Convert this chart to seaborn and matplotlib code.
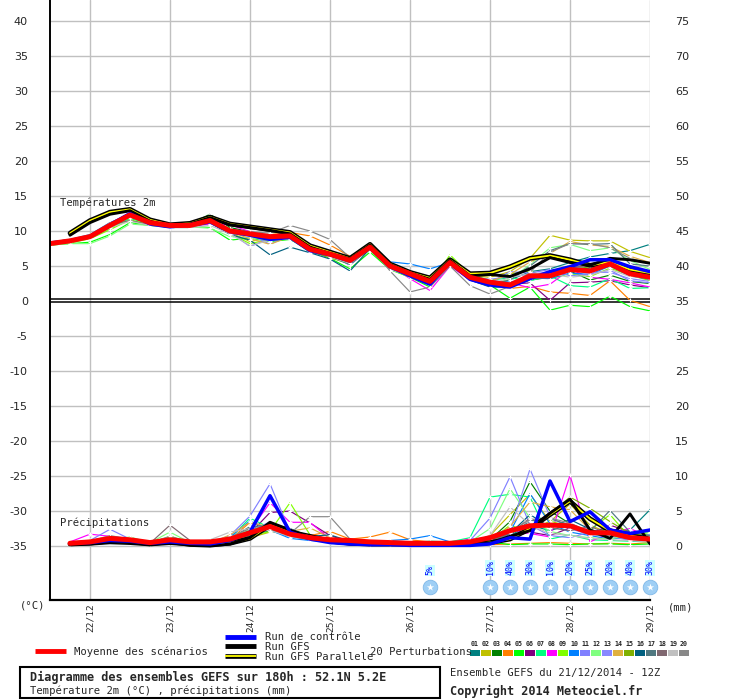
import matplotlib
matplotlib.use("Agg")
import matplotlib.pyplot as plt
import matplotlib.patheffects as pe
from matplotlib.patches import Rectangle
from matplotlib.lines import Line2D
import numpy as np
import pandas as pd
import seaborn as sns

# ---- data ----
hours_t = list(range(0, 181, 6))     # temperature every 6h, 21/12 12Z -> 29/12 00Z
hours_p = list(range(6, 181, 6))     # 6h precipitation totals

temp_mean = [8.2, 8.6, 9.2, 10.8, 12.3, 11.2, 10.8, 10.8, 11.5, 10.0, 9.6, 9.2, 9.3, 7.4, 6.7, 5.8, 7.7, 5.0, 3.9, 2.8,
             5.5, 3.4, 2.7, 2.3, 3.6, 3.6, 4.5, 4.3, 5.3, 3.9, 3.4]
temp_control = [8.3, 8.6, 9.2, 10.9, 12.5, 11.0, 10.6, 10.9, 11.3, 9.9, 9.4, 8.8, 9.1, 7.2, 6.6, 5.7, 7.6, 4.9, 3.6, 2.4,
                5.5, 3.1, 2.3, 2.0, 3.2, 4.2, 4.9, 5.9, 5.9, 4.9, 4.2]
temp_gfs = [np.nan, 9.4, 11.2, 12.4, 12.9, 11.4, 10.7, 11.0, 11.9, 10.9, 10.5, 10.1, 9.6, 7.7, 6.8, 6.0, 8.0, 5.2, 4.0, 3.1,
            5.8, 3.6, 3.8, 3.5, 4.6, 6.2, 5.5, 5.1, 6.1, 5.9, 5.4]
temp_gfs_par = [np.nan, 9.7, 11.5, 12.7, 13.1, 11.6, 10.9, 11.1, 12.0, 11.0, 10.6, 10.2, 9.8, 7.9, 7.0, 6.1, 8.1, 5.3, 4.1, 3.3,
                5.9, 3.9, 4.0, 4.9, 6.1, 6.5, 5.9, 5.1, 5.6, 4.5, 4.0]

t01 = [8.3, 8.7, 9.3, 11.0, 12.4, 11.0, 10.6, 10.9, 11.7, 10.2, 9.3, 9.0, 9.6, 7.8, 6.9, 5.9, 7.9, 5.1, 3.7, 2.9, 5.6, 3.3, 2.4, 3.0, 4.2, 4.6, 5.5, 6.3, 6.8, 7.2, 8.1]
t02 = [8.1, 8.5, 9.1, 10.6, 12.1, 11.3, 10.9, 10.7, 11.3, 9.8, 8.5, 9.1, 9.4, 7.2, 6.5, 5.6, 7.6, 4.9, 3.8, 3.2, 5.7, 3.6, 3.4, 4.2, 6.1, 9.4, 8.7, 8.6, 8.6, 7.1, 6.2]
t03 = [8.2, 8.6, 9.3, 10.9, 12.6, 11.1, 10.7, 11.0, 12.4, 10.5, 9.9, 9.1, 9.0, 7.0, 6.4, 5.4, 7.5, 5.2, 4.1, 2.6, 5.3, 3.2, 2.6, 2.0, 3.0, 3.4, 4.3, 3.0, 3.7, 2.8, 2.5]
t04 = [8.0, 8.4, 9.0, 10.5, 11.9, 11.2, 10.9, 10.8, 11.2, 10.1, 9.7, 9.5, 9.8, 9.3, 8.0, 6.4, 7.9, 5.0, 4.0, 2.9, 5.2, 3.1, 2.5, 1.8, 2.1, 1.3, 1.1, 0.8, 2.9, 0.1, -0.8]
t05 = [8.0, 8.2, 8.4, 9.5, 11.2, 10.8, 10.6, 10.7, 10.5, 8.7, 9.0, 8.5, 8.8, 7.3, 6.1, 4.6, 7.0, 4.5, 3.4, 2.0, 6.3, 3.6, 2.3, 0.4, 2.0, -1.3, -0.6, -0.8, 0.7, -0.8, -1.4]
t06 = [8.3, 8.7, 9.4, 11.1, 12.5, 11.2, 10.6, 10.9, 11.6, 10.3, 9.8, 9.3, 9.5, 7.6, 6.3, 5.5, 7.8, 5.3, 3.8, 2.6, 5.4, 3.5, 2.2, 2.4, 2.6, 0.1, 2.6, 2.7, 2.9, 2.3, 1.9]
t07 = [8.1, 8.5, 9.0, 10.4, 11.8, 11.0, 10.9, 10.9, 11.4, 9.7, 9.4, 9.0, 8.9, 7.1, 6.6, 5.7, 7.4, 4.7, 3.5, 2.7, 5.6, 3.7, 3.0, 3.3, 2.9, 3.6, 2.2, 2.0, 3.2, 1.8, 1.9]
t08 = [8.2, 8.6, 9.2, 10.7, 12.2, 11.3, 10.8, 10.6, 11.0, 10.9, 9.9, 9.4, 9.7, 7.5, 6.9, 5.2, 7.6, 5.1, 3.2, 1.5, 5.0, 3.0, 2.1, 2.6, 1.9, 2.4, 4.5, 3.4, 3.1, 2.6, 2.0]
t09 = [8.0, 8.3, 8.9, 10.2, 11.6, 10.9, 10.7, 10.8, 11.6, 9.6, 8.2, 8.8, 9.0, 7.2, 6.2, 5.5, 7.3, 4.6, 3.4, 2.4, 6.6, 3.8, 2.8, 3.9, 4.3, 3.2, 3.9, 3.5, 4.7, 3.7, 2.9]
t10 = [8.3, 8.8, 9.5, 11.2, 12.4, 11.1, 10.6, 11.1, 11.5, 10.2, 9.4, 9.0, 9.3, 7.6, 6.8, 5.8, 7.9, 5.6, 5.3, 4.6, 5.5, 3.7, 2.9, 2.7, 3.3, 3.2, 4.0, 3.8, 5.0, 3.6, 3.1]
t11 = [8.2, 8.5, 9.1, 10.7, 12.3, 11.1, 11.0, 10.8, 11.4, 9.8, 7.8, 8.9, 9.1, 7.3, 6.6, 5.1, 7.6, 4.9, 4.1, 2.9, 5.7, 3.2, 2.6, 4.2, 4.0, 4.5, 3.6, 3.9, 4.4, 2.9, 2.6]
t12 = [8.0, 8.2, 8.2, 9.3, 11.0, 10.8, 10.5, 10.6, 10.4, 9.2, 9.0, 8.7, 8.9, 7.0, 6.5, 5.9, 7.2, 4.8, 3.6, 3.0, 5.8, 3.5, 2.5, 3.1, 5.2, 7.6, 8.1, 7.2, 7.6, 5.8, 4.5]
t13 = [8.2, 8.6, 9.2, 10.9, 12.1, 11.2, 10.9, 10.7, 11.3, 9.9, 9.5, 8.1, 9.4, 7.5, 6.8, 6.0, 7.7, 5.0, 4.0, 2.8, 5.4, 3.4, 3.1, 3.5, 3.8, 4.2, 4.7, 4.1, 4.1, 3.2, 2.8]
t14 = [8.1, 8.5, 9.2, 10.6, 12.0, 11.4, 10.9, 10.9, 11.2, 9.9, 8.9, 8.1, 9.2, 7.3, 6.6, 5.7, 7.6, 4.7, 3.7, 2.9, 5.5, 3.6, 2.8, 3.8, 5.6, 6.8, 8.5, 8.0, 7.8, 6.4, 5.5]
t15 = [8.2, 8.6, 9.2, 10.8, 12.2, 11.3, 10.8, 10.9, 11.7, 10.3, 9.3, 8.6, 9.0, 7.1, 6.2, 5.3, 7.4, 4.9, 3.9, 2.7, 5.9, 3.3, 2.5, 2.2, 3.4, 3.9, 5.1, 4.7, 6.0, 4.5, 4.0]
t16 = [8.4, 8.8, 9.3, 10.9, 12.2, 11.0, 10.5, 10.5, 11.2, 9.5, 8.7, 6.6, 7.7, 6.9, 6.0, 4.3, 7.5, 4.6, 3.6, 2.4, 5.2, 3.0, 2.0, 2.0, 3.5, 3.8, 4.8, 4.6, 5.6, 4.3, 3.9]
t17 = [8.2, 8.6, 9.2, 10.8, 12.4, 11.2, 10.7, 10.8, 11.6, 10.1, 9.6, 9.2, 9.4, 7.0, 6.4, 5.2, 7.7, 4.8, 3.9, 3.1, 5.8, 3.4, 2.4, 3.0, 5.0, 7.2, 8.2, 8.1, 8.2, 5.3, 5.0]
t18 = [8.3, 8.7, 9.3, 10.9, 11.5, 10.9, 10.5, 10.7, 11.3, 10.1, 9.3, 9.1, 9.2, 7.4, 6.8, 5.8, 7.6, 4.9, 3.9, 2.5, 5.4, 3.2, 2.7, 2.6, 3.2, 4.3, 4.9, 5.0, 5.9, 4.7, 4.2]
t19 = [8.1, 8.5, 9.0, 10.5, 11.4, 10.8, 10.6, 10.5, 10.8, 9.6, 7.9, 8.7, 8.9, 7.4, 6.3, 5.4, 7.5, 4.5, 3.6, 2.9, 5.7, 3.6, 2.3, 3.4, 3.9, 3.9, 3.4, 3.7, 4.5, 3.5, 3.3]
t20 = [8.3, 8.7, 9.4, 11.2, 12.0, 11.0, 10.6, 10.7, 11.2, 10.2, 9.9, 9.7, 10.8, 10.0, 8.8, 6.2, 7.9, 4.3, 1.3, 2.0, 5.0, 2.2, 1.0, 2.1, 4.1, 7.0, 8.2, 8.2, 7.6, 6.1, 5.4]

precip_mean = [0.4, 0.6, 1.1, 0.9, 0.5, 0.9, 0.6, 0.6, 1.0, 1.9, 2.8, 1.7, 1.2, 0.9, 0.8, 0.6, 0.5, 0.4, 0.4, 0.4,
               0.6, 1.2, 2.2, 2.9, 3.0, 2.9, 1.9, 1.9, 1.2, 1.0]
precip_control = [0.4, 0.5, 0.8, 0.7, 0.4, 0.6, 0.4, 0.3, 0.8, 2.0, 7.2, 2.0, 1.0, 0.5, 0.3, 0.2, 0.2, 0.1, 0.1, 0.1,
                  0.1, 0.3, 1.2, 1.0, 9.3, 3.5, 4.9, 2.3, 1.8, 2.3]
precip_gfs = [0.2, 0.3, 0.6, 0.5, 0.2, 0.5, 0.1, 0.0, 0.3, 1.2, 3.4, 2.3, 1.2, 0.6, 0.3, 0.2, 0.2, 0.2, 0.3, 0.2,
              0.3, 0.4, 1.4, 2.2, 4.7, 6.7, 2.3, 1.1, 4.6, 0.3]
precip_gfs_par = [0.3, 0.4, 0.6, 0.5, 0.3, 0.5, 0.3, 0.2, 0.4, 1.1, 3.0, 2.0, 1.4, 0.7, 0.4, 0.3, 0.3, 0.3, 0.3, 0.3,
                  0.3, 0.5, 1.0, 2.5, 4.5, 6.4, 3.9, 2.2, 1.5, 1.0]

p01 = [0.4, 0.5, 0.8, 0.6, 0.4, 0.7, 0.5, 0.4, 0.9, 1.5, 2.2, 1.4, 0.9, 0.6, 0.5, 0.4, 0.3, 0.3, 0.4, 0.3, 0.5, 0.8, 1.5, 3.0, 2.2, 3.1, 1.8, 1.2, 2.3, 5.2]
p02 = [0.3, 0.5, 0.9, 0.7, 0.3, 0.6, 0.4, 0.5, 0.7, 1.2, 2.0, 2.4, 1.3, 0.7, 0.5, 0.4, 0.3, 0.2, 0.3, 0.3, 0.4, 1.5, 4.5, 7.4, 3.5, 6.0, 3.0, 1.8, 1.2, 0.8]
p03 = [0.4, 0.6, 1.0, 1.2, 0.5, 1.3, 0.5, 0.5, 1.2, 2.2, 3.0, 1.8, 1.0, 0.7, 0.6, 0.4, 0.3, 0.3, 0.2, 0.3, 0.5, 0.9, 3.5, 9.2, 5.0, 3.2, 2.0, 2.5, 1.0, 0.7]
p04 = [0.5, 0.6, 0.8, 0.6, 0.4, 0.9, 0.6, 0.5, 0.9, 3.4, 2.5, 2.0, 1.5, 2.1, 1.0, 1.3, 2.0, 0.9, 0.6, 0.3, 0.3, 0.2, 0.3, 0.4, 0.5, 0.4, 0.3, 0.4, 0.3, 0.5]
p05 = [0.3, 0.4, 0.7, 0.5, 0.3, 0.6, 0.4, 0.3, 0.8, 1.3, 3.2, 1.5, 1.0, 0.8, 0.5, 0.4, 0.4, 0.3, 0.3, 0.3, 0.4, 0.6, 0.2, 0.3, 0.3, 0.2, 0.3, 0.3, 0.2, 0.3]
p06 = [0.3, 0.5, 0.9, 0.8, 0.4, 0.8, 0.5, 0.4, 1.0, 1.8, 4.8, 5.0, 3.3, 1.5, 0.6, 0.4, 0.3, 0.3, 0.3, 0.2, 0.4, 0.6, 1.2, 2.0, 1.5, 2.6, 1.7, 3.0, 2.0, 1.2]
p07 = [0.4, 0.6, 1.0, 0.7, 0.4, 0.9, 0.5, 0.5, 1.1, 4.0, 2.6, 1.6, 1.2, 0.9, 0.6, 0.4, 0.4, 0.5, 0.7, 0.6, 1.2, 7.0, 7.4, 7.0, 1.0, 1.6, 0.9, 0.8, 0.7, 0.6]
p08 = [0.6, 1.7, 1.4, 1.0, 0.4, 0.9, 0.6, 0.5, 1.1, 2.2, 6.2, 3.4, 3.4, 1.0, 0.5, 0.1, 0.2, 0.3, 0.4, 0.5, 1.0, 1.2, 2.4, 1.8, 1.3, 10.1, 0.6, 1.9, 2.5, 1.3]
p09 = [0.3, 0.4, 0.6, 0.6, 0.3, 1.4, 0.5, 0.4, 0.7, 1.4, 2.1, 6.2, 1.6, 0.8, 0.7, 0.5, 0.3, 0.3, 0.3, 0.4, 0.5, 0.7, 3.0, 2.0, 3.6, 2.7, 2.3, 4.5, 1.2, 2.0]
p10 = [0.5, 0.7, 1.0, 0.8, 0.5, 0.8, 0.6, 0.6, 1.3, 3.6, 2.3, 1.1, 0.8, 0.6, 0.5, 0.6, 0.8, 1.0, 1.5, 0.6, 0.5, 1.0, 2.0, 7.5, 3.2, 2.0, 1.5, 1.0, 1.3, 1.6]
p11 = [0.4, 0.8, 2.4, 1.0, 0.4, 0.8, 0.6, 0.5, 1.5, 4.3, 8.9, 2.0, 1.0, 0.7, 0.4, 0.3, 0.3, 0.4, 0.5, 0.6, 0.8, 4.0, 9.9, 3.0, 1.5, 1.2, 2.0, 1.4, 0.8, 0.7]
p12 = [0.3, 0.5, 0.9, 1.3, 0.5, 2.0, 0.5, 0.4, 1.0, 2.4, 3.0, 1.9, 1.3, 0.8, 0.5, 0.3, 0.3, 0.3, 0.3, 0.3, 0.6, 2.5, 8.2, 4.0, 2.1, 1.5, 1.2, 1.0, 1.6, 2.0]
p13 = [0.5, 0.7, 1.3, 0.8, 0.4, 0.8, 0.5, 0.5, 1.1, 2.0, 3.5, 2.1, 1.0, 0.7, 0.5, 0.4, 0.3, 0.3, 0.4, 0.3, 0.4, 1.4, 2.2, 11.0, 4.2, 2.5, 1.6, 1.8, 1.0, 0.9]
p14 = [0.4, 0.6, 1.1, 0.9, 0.5, 0.7, 0.5, 0.4, 1.6, 3.4, 2.7, 2.1, 2.6, 1.2, 0.6, 0.5, 0.3, 0.3, 0.3, 0.3, 0.5, 0.8, 2.8, 6.3, 5.6, 5.2, 2.3, 1.5, 1.1, 0.9]
p15 = [0.3, 0.5, 0.8, 0.7, 0.4, 0.7, 0.5, 0.4, 0.9, 1.6, 2.4, 1.7, 1.1, 0.8, 0.5, 0.4, 0.3, 0.3, 0.3, 0.3, 0.4, 0.6, 1.4, 2.2, 4.6, 7.0, 5.4, 3.5, 1.8, 1.5]
p16 = [0.4, 0.6, 1.0, 0.9, 0.4, 0.9, 0.5, 0.5, 1.0, 2.0, 3.3, 2.5, 1.4, 1.6, 0.7, 0.5, 0.4, 0.5, 0.6, 0.5, 0.5, 0.9, 1.8, 4.5, 2.7, 3.8, 2.4, 1.6, 1.0, 0.8]
p17 = [0.4, 0.5, 0.9, 0.7, 0.4, 0.8, 0.5, 0.4, 1.0, 2.8, 2.9, 1.8, 1.3, 0.9, 0.6, 0.4, 0.3, 0.3, 0.3, 0.3, 0.4, 0.8, 1.6, 3.6, 3.9, 3.0, 2.1, 5.1, 2.0, 1.5]
p18 = [0.4, 0.6, 1.2, 0.8, 0.4, 3.0, 0.8, 0.4, 0.9, 1.5, 2.4, 1.5, 1.1, 0.7, 0.5, 0.4, 0.3, 0.3, 0.3, 0.3, 0.5, 0.7, 1.8, 4.0, 2.6, 2.2, 2.8, 1.7, 1.1, 0.9]
p19 = [0.3, 0.5, 0.8, 0.7, 0.3, 0.8, 0.5, 0.9, 2.0, 2.5, 2.2, 1.4, 1.0, 0.7, 0.5, 0.4, 0.3, 0.3, 0.3, 0.3, 0.4, 1.5, 5.6, 3.0, 1.8, 1.5, 1.1, 0.9, 0.8, 0.6]
p20 = [0.6, 0.7, 1.5, 1.0, 0.5, 1.4, 0.6, 0.5, 1.3, 2.5, 2.7, 1.8, 4.2, 4.2, 1.0, 0.5, 0.4, 0.3, 0.3, 0.4, 0.6, 1.0, 2.0, 3.8, 4.0, 3.3, 2.0, 1.5, 1.3, 1.0]

member_ids = ["01", "02", "03", "04", "05", "06", "07", "08", "09", "10",
              "11", "12", "13", "14", "15", "16", "17", "18", "19", "20"]
member_colors = ["#008080", "#c0c000", "#008000", "#ff8000", "#00ff00", "#800080", "#00ff80", "#ff00ff", "#80ff00", "#0080ff",
                 "#8080ff", "#80ff80", "#8888ff", "#e0b040", "#80b000", "#006080", "#507880", "#806870", "#c0c0c0", "#888888"]
temp_members = [t01, t02, t03, t04, t05, t06, t07, t08, t09, t10, t11, t12, t13, t14, t15, t16, t17, t18, t19, t20]
precip_members = [p01, p02, p03, p04, p05, p06, p07, p08, p09, p10, p11, p12, p13, p14, p15, p16, p17, p18, p19, p20]

day_ticks = [12, 36, 60, 84, 108, 132, 156, 180]
day_labels = ["22/12", "23/12", "24/12", "25/12", "26/12", "27/12", "28/12", "29/12"]

snow_hours = [114, 132, 138, 144, 150, 156, 162, 168, 174, 180]
snow_probs = ["5%", "10%", "40%", "30%", "10%", "20%", "25%", "20%", "40%", "30%"]

# ---- long tables for seaborn ----
temp_df = pd.concat([pd.DataFrame({"hour": hours_t, "value": v, "member": m})
                     for m, v in zip(member_ids, temp_members)], ignore_index=True)
precip_df = pd.concat([pd.DataFrame({"hour": hours_p, "value": v, "member": m})
                       for m, v in zip(member_ids, precip_members)], ignore_index=True)
palette = dict(zip(member_ids, member_colors))

sns.set_style("white")
plt.rcParams["font.family"] = ["DejaVu Sans Mono"]
mono = "DejaVu Sans Mono"

fig = plt.figure(figsize=(7.4, 7.0), dpi=100)
ax = fig.add_axes([50 / 740, 100 / 700, 600 / 740, 600 / 700])
ylo, yhi = -42.7, 43.0
ax.set_xlim(0, 180)
ax.set_ylim(ylo, yhi)
ax2 = ax.twinx()
ax2.set_ylim(ylo + 35, yhi + 35)

# grid
for yv in range(-35, 41, 5):
    if yv != 0:
        ax.axhline(yv, color="#c0c0c0", lw=1, zorder=0)
for xv in day_ticks:
    ax.axvline(xv, color="#c0c0c0", lw=1, zorder=0)
ax.axhline(0.3, color="black", lw=1.1, zorder=1)
ax.axhline(-0.2, color="black", lw=1.1, zorder=1)

member_kw = dict(estimator=None, sort=False, legend=False, lw=0.85, marker="+",
                 markersize=3.5, markeredgewidth=0.8, palette=palette)
par_fx = [pe.Stroke(linewidth=3.4, foreground="black"), pe.Normal()]

# temperature
sns.lineplot(data=temp_df, x="hour", y="value", hue="member", ax=ax, **member_kw)
sns.lineplot(x=hours_t, y=temp_gfs_par, ax=ax, color="#ffff00", lw=1.3, path_effects=par_fx)
sns.lineplot(x=hours_t, y=temp_gfs, ax=ax, color="black", lw=2.1)
sns.lineplot(x=hours_t, y=temp_control, ax=ax, color="#0000ff", lw=2.5)
sns.lineplot(x=hours_t, y=temp_mean, ax=ax, color="#ff0000", lw=3.6)

# precipitation (right axis, mm)
sns.lineplot(data=precip_df, x="hour", y="value", hue="member", ax=ax2, **member_kw)
sns.lineplot(x=hours_p, y=precip_gfs_par, ax=ax2, color="#ffff00", lw=1.3, path_effects=par_fx)
sns.lineplot(x=hours_p, y=precip_gfs, ax=ax2, color="black", lw=2.1)
sns.lineplot(x=hours_p, y=precip_control, ax=ax2, color="#0000ff", lw=2.5)
sns.lineplot(x=hours_p, y=precip_mean, ax=ax2, color="#ff0000", lw=3.6)

# snow probability icons
ax.scatter(snow_hours, [-40.9] * len(snow_hours), s=110, color="#9fcff5", edgecolor="#7fb8e8",
           lw=0.6, zorder=5, clip_on=False)
ax.scatter(snow_hours, [-40.9] * len(snow_hours), s=30, marker="*", color="white", lw=0, zorder=6,
           clip_on=False)
for h, lab in zip(snow_hours, snow_probs):
    ax.text(h, -39.2, lab, rotation=90, ha="center", va="bottom", fontsize=6, color="#0000ff",
            family=mono, zorder=6, bbox=dict(boxstyle="square,pad=0.1", fc="#ccffff", ec="none"))

ax.text(3, 14.1, "Températures 2m", ha="left", va="center", fontsize=7.6, family=mono)
ax.text(3, -31.6, "Précipitations", ha="left", va="center", fontsize=7.6, family=mono)

# axes cosmetics
ax.set_xticks(day_ticks)
ax.set_xticklabels(day_labels, rotation=90, family=mono, fontsize=6.8)
ax.set_yticks(list(range(-35, 41, 5)))
ax.set_yticklabels([str(v) for v in range(-35, 41, 5)], family="DejaVu Sans", fontsize=8)
ax2.set_yticks(list(range(0, 76, 5)))
ax2.set_yticklabels([str(v) for v in range(0, 76, 5)], family="DejaVu Sans", fontsize=8)
ax.tick_params(axis="both", length=0)
ax.tick_params(axis="y", pad=16)
ax.tick_params(axis="x", pad=2)
ax2.tick_params(axis="y", length=0, pad=18)
ax.set_xlabel("")
ax.set_ylabel("")
ax2.set_ylabel("")
for s in ["top", "right"]:
    ax.spines[s].set_visible(False)
for s in ax2.spines.values():
    s.set_visible(False)
ax.spines["left"].set_color("black")
ax.spines["left"].set_linewidth(1.4)
ax.spines["bottom"].set_color("black")
ax.spines["bottom"].set_linewidth(1.6)

# ---- bottom legend / caption in pixel coords ----
lay = fig.add_axes([0, 0, 1, 1], facecolor="none")
lay.set_xlim(0, 740)
lay.set_ylim(700, 0)
lay.axis("off")
lay.text(20, 606, "(°C)", fontsize=7.6, family=mono, va="center")
lay.text(668, 607, "(mm)", fontsize=7.6, family=mono, va="center")

lay.plot([35, 66], [651, 651], color="#ff0000", lw=3.5, solid_capstyle="butt")
lay.text(74, 652, "Moyenne des scénarios", fontsize=7.6, family=mono, va="center")
lay.plot([225, 256], [637, 637], color="#0000ff", lw=3.5, solid_capstyle="butt")
lay.text(265, 637.5, "Run de contrôle", fontsize=7.6, family=mono, va="center")
lay.plot([225, 256], [646, 646], color="black", lw=3.5, solid_capstyle="butt")
lay.text(265, 646.5, "Run GFS", fontsize=7.6, family=mono, va="center")
lay.add_line(Line2D([225, 256], [656, 656], color="#ffff00", lw=1.3, solid_capstyle="butt",
                    path_effects=[pe.Stroke(linewidth=3.4, foreground="black"), pe.Normal()]))
lay.text(265, 656.5, "Run GFS Parallele", fontsize=7.6, family=mono, va="center")
lay.text(370, 652, "20 Perturbations", fontsize=7.6, family=mono, va="center")
for i, (mid, col) in enumerate(zip(member_ids, member_colors)):
    x0 = 470 + 11 * i
    lay.add_patch(Rectangle((x0, 650), 10, 5.5, color=col, lw=0))
    lay.text(x0 + 5, 643.5, mid, fontsize=4.8, family=mono, weight="bold", ha="center", va="center")

lay.add_patch(Rectangle((20, 667), 420, 31, fill=False, ec="black", lw=1.5))
lay.text(30, 677, "Diagramme des ensembles GEFS sur 180h : 52.1N 5.2E", fontsize=8.6,
         family=mono, weight="bold", va="center")
lay.text(30, 691, "Température 2m (°C) , précipitations (mm)", fontsize=7.6, family=mono, va="center")
lay.text(450, 673, "Ensemble GEFS du 21/12/2014 - 12Z", fontsize=7.6, family=mono, va="center")
lay.text(450, 691, "Copyright 2014 Meteociel.fr", fontsize=8.6, family=mono, weight="bold", va="center")

fig.savefig("out.png", dpi=100, facecolor="white")
